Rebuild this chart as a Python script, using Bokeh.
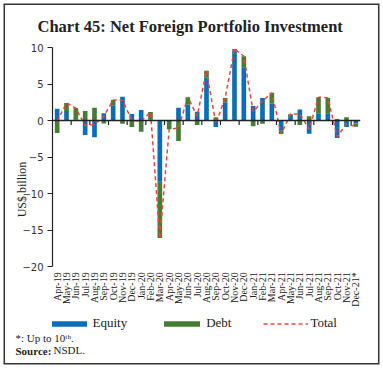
import math
from bokeh.plotting import figure
from bokeh.models import Range1d, FixedTicker, Span, Legend, LegendItem, ColumnDataSource, Title
from bokeh.core.properties import value
from bokeh.embed import file_html
from bokeh.resources import INLINE

months = ["Apr-19", "May-19", "Jun-19", "Jul-19", "Aug-19", "Sep-19", "Oct-19", "Nov-19",
          "Dec-19", "Jan-20", "Feb-20", "Mar-20", "Apr-20", "May-20", "Jun-20", "Jul-20",
          "Aug-20", "Sep-20", "Oct-20", "Nov-20", "Dec-20", "Jan-21", "Feb-21", "Mar-21",
          "Apr-21", "May-21", "Jun-21", "Jul-21", "Aug-21", "Sep-21", "Oct-21", "Nov-21",
          "Dec-21*"]
equity = [1.6, 1.3, 0.1, -2.0, -2.3, 1.0, 2.1, 3.25, 0.9, 1.45, 0.1, -8.4, -0.2, 1.75, 2.2, 1.2,
          5.9, -0.9, 2.5, 9.6, 7.3, 2.0, 3.1, 2.3, -1.4, 0.8, 1.5, -1.8, 1.0, 1.0, -2.4, -0.9, -0.4]
debt = [-1.7, 1.1, 1.6, 1.3, 1.75, -0.4, 0.7, -0.45, -0.9, -1.55, 1.05, -7.7, -1.0, -2.8, 1.0, -0.6,
        0.9, 0.45, 0.6, 0.2, 1.5, -0.8, -0.45, 1.5, -0.45, 0.1, -0.6, 0.6, 2.2, 2.1, 0.2, 0.45, -0.45]
total = [-0.1, 2.4, 1.7, -0.7, -0.55, 0.6, 2.8, 2.8, 0.0, -0.1, 1.15, -16.1, -1.2, -1.05, 3.2, 0.6,
         6.8, -0.45, 3.1, 9.8, 8.8, 1.2, 2.65, 3.8, -1.85, 0.9, 0.9, -1.2, 3.2, 3.1, -2.2, -0.45, -0.85]
y_ticks = [-20, -15, -10, -5, 0, 5, 10]
y_bounds = (-20, 10)

n = len(months)
xs = [i + 0.5 for i in range(n)]
debt_base = [max(e, 0) if d >= 0 else min(e, 0) for e, d in zip(equity, debt)]
debt_top = [b + d for b, d in zip(debt_base, debt)]

src = ColumnDataSource(dict(x=xs, eq=equity, eq0=[0] * n, db=debt_base, dt=debt_top, tot=total))

SERIF = "Liberation Serif"
BLUE = "#0b6db7"
GREEN = "#467c33"
RED = "#ec4439"

# frame: 52..360 px wide, 47..331 px tall; -20..10 occupies the top 219 px
Y_LOW = -28.9
LABEL_Y = -20.8

p = figure(width=383, height=368, x_range=Range1d(0, n), y_range=Range1d(Y_LOW, 10),
           output_backend="svg", toolbar_location=None, x_axis_location=None,
           min_border_left=52, min_border_right=23, min_border_top=47, min_border_bottom=37)
p.styles = {"box-shadow": "inset 0 0 0 3.5px #ffffff, inset 0 0 0 5px #333333"}
p.grid.visible = False
p.outline_line_color = None
p.background_fill_alpha = 0
p.border_fill_alpha = 0

p.title.text = "Chart 45: Net Foreign Portfolio Investment"
p.title.align = "left"
p.title.offset = -15
p.title.standoff = 24
p.title.text_font = SERIF
p.title.text_font_style = "bold"
p.title.text_font_size = "16.5px"
p.title.text_color = "#222"

r_eq = p.vbar(x="x", width=0.5, bottom="eq0", top="eq", source=src, fill_color=BLUE, line_color=None)
r_db = p.vbar(x="x", width=0.5, bottom="db", top="dt", source=src, fill_color=GREEN, line_color=None)

p.add_layout(Span(location=0, dimension="width", line_color="#222", line_width=1.6))
tick_x = list(range(2, n, 2))
p.segment(x0=tick_x, x1=tick_x, y0=[0] * len(tick_x), y1=[-0.6] * len(tick_x),
          line_color="#222", line_width=1.2)

r_tot = p.line(x="x", y="tot", source=src, line_color=RED, line_width=1.5, line_dash="4 3")

# category labels along the bottom of the value range
p.text(x=xs, y=[LABEL_Y] * n, text=months, angle=math.pi / 2, text_align="right",
       text_baseline="middle", text_font=value(SERIF), text_font_size=value("10px"),
       text_color="#222")

# y axis
p.yaxis.bounds = y_bounds
p.yaxis.ticker = FixedTicker(ticks=y_ticks)
p.yaxis.major_tick_out = 5
p.yaxis.major_tick_in = 0
p.yaxis.minor_tick_line_color = None
p.yaxis.major_label_standoff = 4
p.yaxis.major_label_text_font = "DejaVu Sans"
p.yaxis.major_label_text_font_size = "10px"
p.yaxis.major_label_text_color = "#333"
p.yaxis.axis_line_color = "#222"
p.yaxis.axis_line_width = 1.2
p.yaxis.major_tick_line_color = "#222"
p.yaxis.axis_label = "US$ billion"
p.yaxis.axis_label_text_font = SERIF
p.yaxis.axis_label_text_font_style = "normal"
p.yaxis.axis_label_text_font_size = "12px"
p.yaxis.axis_label_text_color = "#222"
p.yaxis.axis_label_standoff = -10

legend = Legend(items=[LegendItem(label="Equity", renderers=[r_eq]),
                       LegendItem(label="Debt", renderers=[r_db]),
                       LegendItem(label="Total", renderers=[r_tot])],
                orientation="horizontal", location=(-6.5, 0), padding=0, margin=0,
                spacing=32, glyph_width=45, glyph_height=7, label_height=7,
                label_standoff=2, label_text_font=SERIF, label_text_font_size="13px",
                label_text_color="#222", border_line_color=None, background_fill_alpha=0)
p.add_layout(legend)

foot_kw = dict(align="left", text_font=SERIF, text_font_size="11px", text_color="#222")
p.add_layout(Title(text="*: Up to 10\u1d57\u02b0.", offset=-37, standoff=-3,
                   text_font_style="normal", **foot_kw), "below")
p.add_layout(Title(text="Source:", offset=-37, standoff=1, text_font_style="bold", **foot_kw), "below")
p.add_layout(Title(text="NSDL.", offset=1, standoff=-27, vertical_align="top",
                   text_font_style="normal", **foot_kw), "below")

open("out.html", "w").write(file_html(p, INLINE))
